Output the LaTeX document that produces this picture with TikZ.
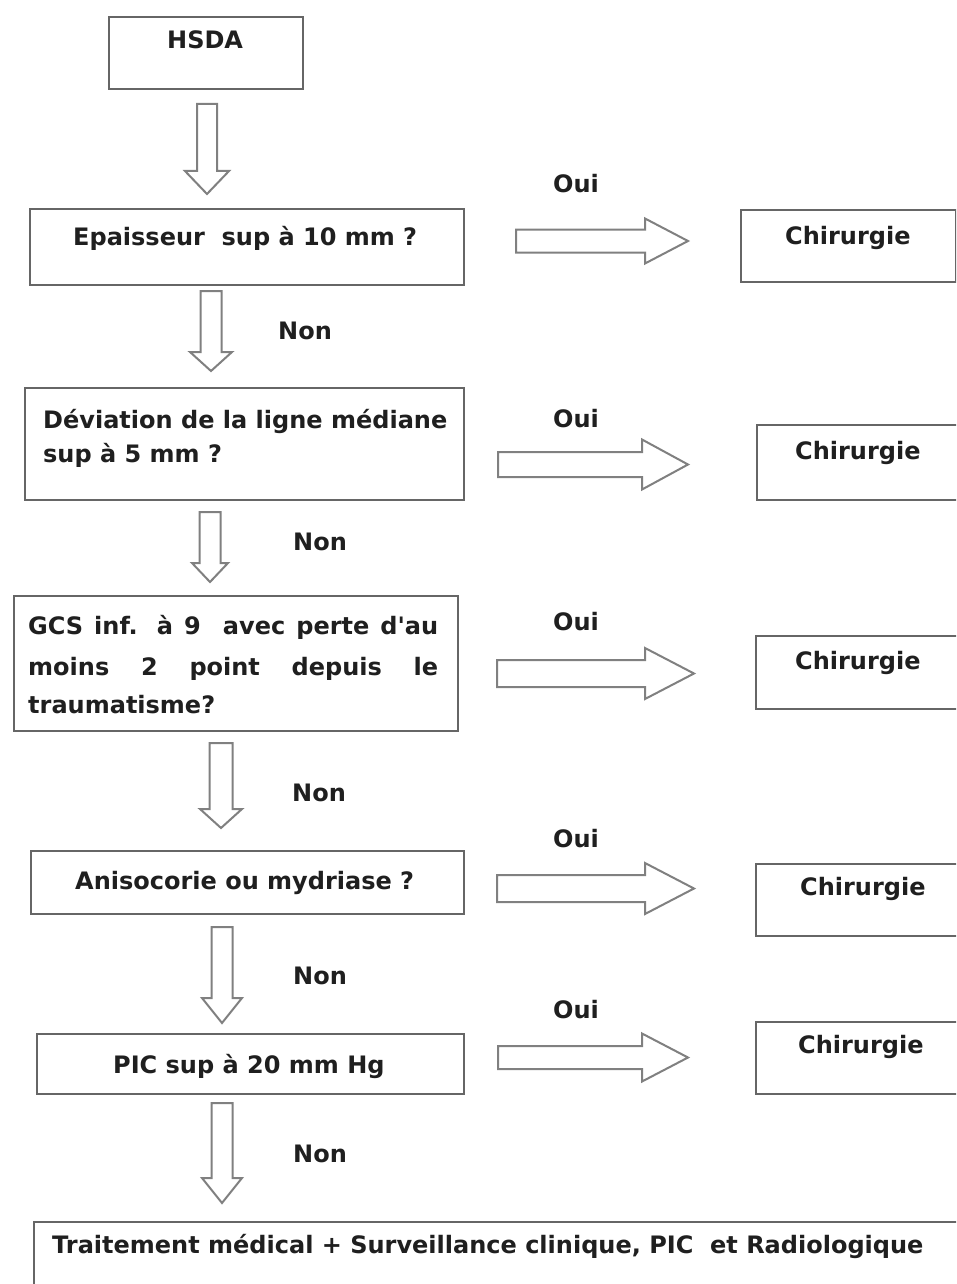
\documentclass[tikz,border=0pt]{standalone}
\usepackage{fontspec}
\setmainfont{DejaVu Sans}
\usetikzlibrary{positioning}

% hollow block arrow pointing down: centre x, top y, head start y, tip y, shaft half width, head half width
\newcommand\DownBlock[6]{%
  \draw[blockarrow] (#1-#5,#2) -- (#1+#5,#2) -- (#1+#5,#3) -- (#1+#6,#3) -- (#1,#4)
    -- (#1-#6,#3) -- (#1-#5,#3) -- cycle;}
% hollow block arrow pointing right: left x, centre y, head start x, tip x, shaft half width, head half width
\newcommand\RightBlock[6]{%
  \draw[blockarrow] (#1,#2-#5) -- (#3,#2-#5) -- (#3,#2-#6) -- (#4,#2) -- (#3,#2+#6)
    -- (#3,#2+#5) -- (#1,#2+#5) -- cycle;}

\tikzset{
  flowbox/.style={draw=black!60, line width=2.4pt, rectangle, inner sep=0pt, anchor=north west},
  lbl/.style={anchor=base west, inner sep=0pt, text=black!88,
              font=\fontsize{24}{24}\selectfont\bfseries},
  blockarrow/.style={draw=black!50, line width=2pt, fill=white, line join=miter},
}

\begin{document}
\begin{tikzpicture}[x=1pt, y=-1pt]
  \useasboundingbox (0,0) rectangle (956,1284);
  \clip (0,0) rectangle (956,1284);
  \fill[white] (0,0) rectangle (956,1284);

  % left column: questions
  \node[flowbox, minimum width=194, minimum height=72] (hsda) at (108,16) {};
  \node[flowbox, minimum width=434, minimum height=76] (q1) at (29,208) {};
  \node[flowbox, minimum width=439, minimum height=112] (q2) at (24,387) {};
  \node[flowbox, minimum width=444, minimum height=135] (q3) at (13,595) {};
  \node[flowbox, minimum width=433, minimum height=63] (q4) at (30,850) {};
  \node[flowbox, minimum width=427, minimum height=60] (q5) at (36,1033) {};
  \node[flowbox, minimum width=960, minimum height=90] (fin) at (33,1221) {};

  % right column: surgery outcomes
  \node[flowbox, minimum width=215, minimum height=72] (c1) at (740,209) {};
  \node[flowbox, minimum width=230, minimum height=75] (c2) at (756,424) {};
  \node[flowbox, minimum width=230, minimum height=73] (c3) at (755,635) {};
  \node[flowbox, minimum width=230, minimum height=72] (c4) at (755,863) {};
  \node[flowbox, minimum width=230, minimum height=72] (c5) at (755,1021) {};

  % texts of the boxes
  \node[lbl] (thsda) at (167,49) {HSDA};
  \node[lbl] (tq1) at (73,245) {Epaisseur\ \ sup à 10 mm ?};
  \node[lbl] (tq2a) at (43,428) {Déviation de la ligne médiane};
  \node[lbl] (tq2b) at (43,462) {sup à 5 mm ?};
  \node[lbl] (tq3a) at (28,634) {\makebox[410pt][s]{GCS inf. à 9 \ avec perte d\textquotesingle au}};
  \node[lbl] (tq3b) at (28,675) {\makebox[410pt][s]{moins 2 point depuis le}};
  \node[lbl] (tq3c) at (28,713) {traumatisme?};
  \node[lbl] (tq4) at (75,889) {Anisocorie ou mydriase ?};
  \node[lbl] (tq5) at (113,1073) {PIC sup à 20 mm Hg};
  \node[lbl] (tfin) at (52,1253) {Traitement médical + Surveillance clinique, PIC\ \ et Radiologique};

  \node[lbl] (tc1) at (785,244) {Chirurgie};
  \node[lbl] (tc2) at (795,459) {Chirurgie};
  \node[lbl] (tc3) at (795,669) {Chirurgie};
  \node[lbl] (tc4) at (800,895) {Chirurgie};
  \node[lbl] (tc5) at (798,1053) {Chirurgie};

  % branch labels
  \node[lbl] (o1) at (553,193) {Oui};
  \node[lbl] (o2) at (553,427) {Oui};
  \node[lbl] (o3) at (553,630) {Oui};
  \node[lbl] (o4) at (553,847) {Oui};
  \node[lbl] (o5) at (553,1018) {Oui};

  \node[lbl] (n1) at (278,339) {Non};
  \node[lbl] (n2) at (293,550) {Non};
  \node[lbl] (n3) at (292,801) {Non};
  \node[lbl] (n4) at (293,984) {Non};
  \node[lbl] (n5) at (293,1162) {Non};

  % "Non" block arrows
  \DownBlock{207}{104}{171}{194}{10}{22}
  \DownBlock{211}{291}{352}{371}{10.5}{21}
  \DownBlock{210}{512}{563}{582}{10.5}{18}
  \DownBlock{221}{743}{809}{828}{11.5}{21}
  \DownBlock{222}{927}{998}{1023}{10.5}{20}
  \DownBlock{222}{1103}{1178}{1203}{10.5}{20}

  % "Oui" block arrows
  \RightBlock{516}{241}{645}{688}{11.5}{22.5}
  \RightBlock{498}{464.5}{642}{688}{12.5}{25}
  \RightBlock{497}{673.5}{645}{694}{13.5}{25.5}
  \RightBlock{497}{888.5}{645}{694}{13.5}{25.5}
  \RightBlock{498}{1057.5}{642}{688}{11.5}{24}
\end{tikzpicture}
\end{document}
